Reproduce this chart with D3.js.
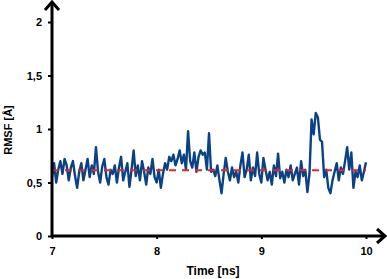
<!DOCTYPE html>
<html>
<head>
<meta charset="utf-8">
<script src="https://cdn.jsdelivr.net/npm/d3@7"></script>
<style>
  body { margin: 0; background: #fff; }
  svg text { font-family: Arial, "Liberation Sans", sans-serif; font-weight: bold; }
</style>
</head>
<body>
<svg id="chart"></svg>
<script>
var width = 387, height = 279;

// RMSF series, every 0.02 ns from 7 to 10
var tStart = 7, tStep = 0.02;
var rmsf = [
  0.55, 0.68, 0.50, 0.62, 0.70, 0.58, 0.72, 0.66, 0.52, 0.64,
  0.70, 0.56, 0.45, 0.60, 0.68, 0.52, 0.62, 0.72, 0.55, 0.66,
  0.58, 0.83, 0.60, 0.50, 0.65, 0.72, 0.55, 0.48, 0.62, 0.58,
  0.66, 0.50, 0.64, 0.74, 0.52, 0.60, 0.68, 0.46, 0.62, 0.80,
  0.56, 0.66, 0.52, 0.70, 0.60, 0.48, 0.64, 0.58, 0.72, 0.55,
  0.50, 0.62, 0.45, 0.58, 0.68, 0.62, 0.74, 0.70, 0.76, 0.66,
  0.72, 0.80, 0.68, 0.76, 0.62, 0.98, 0.70, 0.64, 0.78, 0.60,
  0.74, 0.80, 0.76, 0.78, 0.62, 0.96, 0.60, 0.62, 0.56, 0.66,
  0.52, 0.40, 0.58, 0.73, 0.60, 0.52, 0.64, 0.55, 0.60, 0.50,
  0.66, 0.78, 0.55, 0.62, 0.76, 0.52, 0.64, 0.56, 0.78, 0.58,
  0.50, 0.73, 0.62, 0.52, 0.60, 0.48, 0.66, 0.56, 0.77, 0.54,
  0.60, 0.50, 0.62, 0.55, 0.66, 0.52, 0.58, 0.64, 0.48, 0.70,
  0.56, 0.62, 0.41, 0.58, 1.09, 0.95, 1.15, 1.11, 0.90, 0.88,
  0.55, 0.62, 0.45, 0.40, 0.52, 0.60, 0.68, 0.52, 0.64, 0.58,
  0.70, 0.83, 0.62, 0.78, 0.45, 0.60, 0.55, 0.66, 0.52, 0.60,
  0.69
];
var meanRmsf = 0.615;

var xTicks = [7, 8, 9, 10];
var yTicks = [0, 0.5, 1, 1.5, 2];

var svg = d3.select("svg#chart")
    .attr("width", width)
    .attr("height", height);

var x = d3.scaleLinear().domain([7, 10]).range([52, 366]);
var y = d3.scaleLinear().domain([0, 2]).range([236, 22]);

var fmt = function (d) { return String(d).replace(".", ","); };

// y axis ticks + labels
var yAxis = svg.append("g")
    .attr("transform", "translate(52,0)")
    .call(d3.axisLeft(y).tickValues(yTicks).tickSize(4).tickPadding(6).tickFormat(fmt));
yAxis.select(".domain").remove();
yAxis.selectAll("line").attr("stroke", "#000").attr("stroke-width", 2);
yAxis.selectAll("text").attr("font-size", 11).attr("fill", "#000");

// x axis ticks + labels
var xAxis = svg.append("g")
    .attr("transform", "translate(0,236)")
    .call(d3.axisBottom(x).tickValues(xTicks).tickSize(3).tickPadding(8).tickFormat(fmt));
xAxis.select(".domain").remove();
xAxis.selectAll("line").attr("stroke", "#000").attr("stroke-width", 2);
xAxis.selectAll("text").attr("font-size", 11).attr("fill", "#000");

// data line
var line = d3.line()
    .x(function (d, i) { return x(tStart + i * tStep); })
    .y(function (d) { return y(d); });

svg.append("path")
    .datum(rmsf)
    .attr("fill", "none")
    .attr("stroke", "#0a4286")
    .attr("stroke-width", 2.4)
    .attr("stroke-linejoin", "round")
    .attr("d", line);

// mean dashed line
svg.append("line")
    .attr("x1", x(7)).attr("x2", x(10))
    .attr("y1", y(meanRmsf)).attr("y2", y(meanRmsf))
    .attr("stroke", "#e3262a")
    .attr("stroke-width", 2)
    .attr("stroke-dasharray", "7,6");

// axis lines with arrows
svg.append("line")
    .attr("x1", 52).attr("x2", 52).attr("y1", 237).attr("y2", 3)
    .attr("stroke", "#000").attr("stroke-width", 3);
svg.append("path")
    .attr("d", "M45,10 L52,2 L59,10")
    .attr("fill", "none").attr("stroke", "#000").attr("stroke-width", 3);
svg.append("line")
    .attr("x1", 51).attr("x2", 384).attr("y1", 236).attr("y2", 236)
    .attr("stroke", "#000").attr("stroke-width", 3);
svg.append("path")
    .attr("d", "M377,229 L385,236 L377,243")
    .attr("fill", "none").attr("stroke", "#000").attr("stroke-width", 3);

// axis titles
svg.append("text")
    .attr("x", 213).attr("y", 275)
    .attr("text-anchor", "middle")
    .attr("font-size", 12)
    .text("Time [ns]");

svg.append("text")
    .attr("transform", "translate(12,130) rotate(-90)")
    .attr("text-anchor", "middle")
    .attr("font-size", 11)
    .text("RMSF [Å]");
</script>
</body>
</html>
